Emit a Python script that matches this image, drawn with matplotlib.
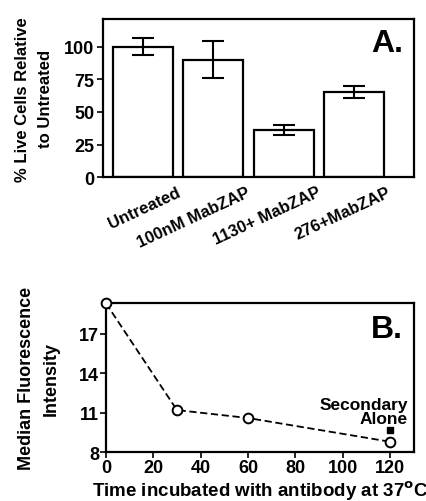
import matplotlib
matplotlib.use('Agg')
import matplotlib.pyplot as plt
from matplotlib.transforms import ScaledTranslation

plt.rcParams['font.family'] = ['Liberation Sans', 'DejaVu Sans']
plt.rcParams['font.weight'] = 'bold'
plt.rcParams['axes.labelweight'] = 'bold'

# panel A - bar chart
tratamientos = ['Untreated', '100nM MabZAP', '1130+ MabZAP', '276+MabZAP']
vivas = [100, 90, 36, 65]
errores = [6.5, 14, 3.7, 4.7]
ticks_a = [0, 25, 50, 75, 100]

# panel B - line chart
tiempo = [0, 30, 60, 120]
fluorescencia = [19.3, 11.2, 10.6, 8.8]
secundario_x = [120]
secundario_y = [9.7]
ticks_bx = [0, 20, 40, 60, 80, 100, 120]
ticks_by = [8, 11, 14, 17]

fig = plt.figure(figsize=(4.27, 5.02), dpi=100)

#panel A
ax1 = fig.add_axes([0.241, 0.645, 0.728, 0.315])
pos = list(range(len(tratamientos)))
ax1.bar(pos, vivas, width=0.85, color='white', edgecolor='black', linewidth=1.6,
        yerr=errores, capsize=8, error_kw=dict(elinewidth=1.5, capthick=1.5, ecolor='black'))
ax1.set_xlim(-0.57, 3.85)
ax1.set_ylim(0, 121)
ax1.set_yticks(ticks_a)
ax1.set_xticks(pos, tratamientos, rotation=25, ha='right', va='top', rotation_mode='anchor')
ax1.tick_params(axis='x', length=0, pad=5, labelsize=12)
ax1.tick_params(axis='y', length=4, width=1.2, labelsize=13, pad=2)
desplazar = ScaledTranslation(33 / 100, 0, fig.dpi_scale_trans)
for lab in ax1.get_xticklabels():
    lab.set_transform(lab.get_transform() + desplazar)
for s in ax1.spines.values():
    s.set_linewidth(1.6)
ax1.set_ylabel('% Live Cells Relative\nto Untreated', fontsize=12, labelpad=8, linespacing=1.65)
ax1.text(0.965, 0.85, 'A.', transform=ax1.transAxes, ha='right', va='center', fontsize=23)

#panel B
ax2 = fig.add_axes([0.248, 0.097, 0.721, 0.297])
ax2.plot(tiempo, fluorescencia, color='black', linestyle=(0, (4, 2)), linewidth=1.3,
         marker='o', markersize=7, markerfacecolor='white', markeredgecolor='black',
         markeredgewidth=1.4, clip_on=False, zorder=3)
ax2.plot(secundario_x, secundario_y, 's', color='black', markersize=4)
ax2.text(127.6, 10.0, 'Secondary\nAlone', ha='right', va='bottom', fontsize=12.5, linespacing=0.95)
ax2.set_xlim(0, 130)
ax2.set_ylim(8, 19.3)
ax2.set_xticks(ticks_bx)
ax2.set_yticks(ticks_by)
ax2.tick_params(axis='both', length=4, width=1.2, labelsize=13, pad=1)
for s in ax2.spines.values():
    s.set_linewidth(1.6)
ax2.set_ylabel('Median Fluorescence\nIntensity', fontsize=13, labelpad=14, linespacing=1.6)
ax2.set_xlabel('Time incubated with antibody at 37$^{\\mathbf{o}}$C', fontsize=13.5, labelpad=2)
ax2.text(0.965, 0.83, 'B.', transform=ax2.transAxes, ha='right', va='center', fontsize=23)

plt.savefig('out.png', dpi=100)
